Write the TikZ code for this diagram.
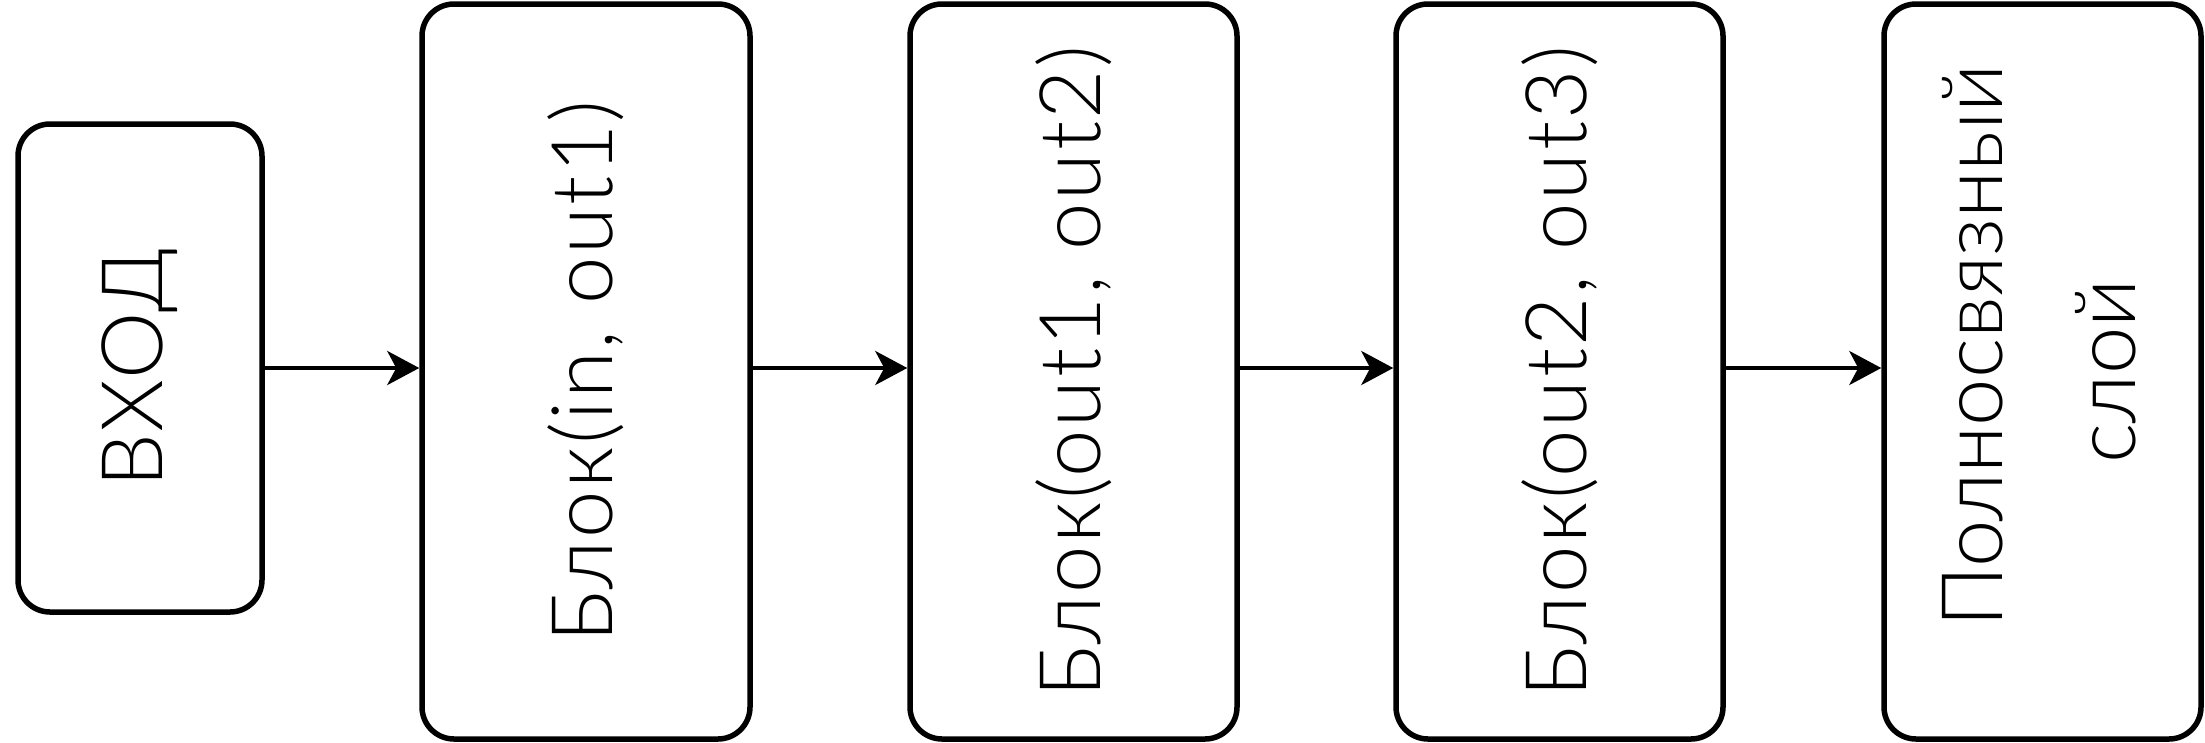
\documentclass[tikz,border=0pt]{standalone}
\usepackage{fontspec}
\setmainfont{Lato Light}[LetterSpace=3]
\newfontfamily\tightfont{Lato Light}
\usetikzlibrary{arrows.meta}
\tikzset{
  blk/.style={draw=black, line width=5.5pt, rounded corners=32pt, rectangle, inner sep=0pt, fill=white,
    font=\fontsize{85}{133}\selectfont},
  conn/.style={line width=4pt, -{Stealth[length=32pt,width=34pt,inset=9pt]}}
}
\begin{document}
\begin{tikzpicture}[x=1pt,y=1pt]
\useasboundingbox (0,0) rectangle (2205,-742);
\node[blk, minimum width=244pt, minimum height=488pt] (b1) at (140,-368) {\rotatebox{90}{ВХОД}};
\node[blk, minimum width=328pt, minimum height=735pt] (b2) at (586,-371.5) {\rotatebox{90}{Блок(in, out1)}};
\node[blk, minimum width=327pt, minimum height=735pt] (b3) at (1073.5,-371.5) {\rotatebox{90}{Блок(out1, out2)}};
\node[blk, minimum width=327pt, minimum height=735pt] (b4) at (1559.5,-371.5) {\rotatebox{90}{Блок(out2, out3)}};
\node[blk, minimum width=317pt, minimum height=735pt] (b5) at (2042.5,-371.5) {\rotatebox{90}{\tightfont\begin{tabular}{@{}c@{}}\hspace*{0.6em}Полносвязный\\слой\end{tabular}}};
\draw[conn] (b1.east) -- (b1.east -| b2.west);
\draw[conn] (b1.east -| b2.east) -- (b1.east -| b3.west);
\draw[conn] (b1.east -| b3.east) -- (b1.east -| b4.west);
\draw[conn] (b1.east -| b4.east) -- (b1.east -| b5.west);
\end{tikzpicture}
\end{document}
